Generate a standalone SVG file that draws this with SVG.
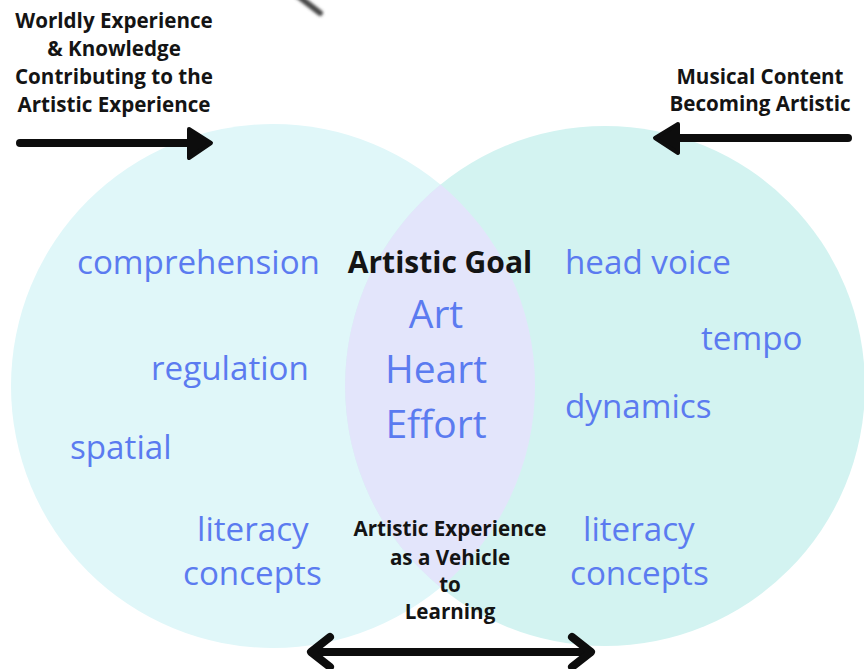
<svg xmlns="http://www.w3.org/2000/svg" width="864" height="669" viewBox="0 0 864 669">
  <style>
    .lbl { font-family: "Open Sans", "Liberation Sans", sans-serif; font-weight: 700; fill: #141414; text-anchor: middle; }
    .lbl-sm { font-size: 20.6px; }
    .item { font-family: "Open Sans", "Liberation Sans", sans-serif; font-weight: 400; fill: #5b7bf0; font-size: 33.2px; }
    .center { text-anchor: middle; font-size: 39px; }
    .conn { stroke: #0d0d0d; stroke-width: 8; stroke-linecap: round; stroke-linejoin: round; fill: none; }
    .head { fill: #0d0d0d; stroke: #0d0d0d; stroke-width: 4; stroke-linejoin: round; }
  </style>
  <defs>
    <filter id="soft" x="-50%" y="-50%" width="200%" height="200%">
      <feGaussianBlur stdDeviation="1.6"/>
    </filter>
  </defs>

  <rect width="864" height="669" fill="#ffffff"/>

  <!-- stray stroke at the top edge -->
  <line x1="298" y1="-4" x2="320" y2="13" stroke="#4a4a4a" stroke-width="6" stroke-linecap="round" filter="url(#soft)"/>

  <!-- Venn circles -->
  <g id="circle-left">
    <circle cx="273" cy="386" r="262" fill="#e0f7f9"/>
  </g>
  <g id="circle-right">
    <circle cx="605" cy="386" r="260" fill="#d3f3f1"/>
  </g>
  <g id="overlap">
    <path d="M 440.6 184.6 A 262 262 0 0 1 440.6 587.4 A 260 260 0 0 1 440.6 184.6 Z" fill="#e3e5fb"/>
  </g>

  <!-- left set items -->
  <g id="left-items" class="item">
    <text x="77" y="274">comprehension</text>
    <text x="151" y="380">regulation</text>
    <text x="70" y="459">spatial</text>
    <text x="197" y="541">literacy</text>
    <text x="183" y="585">concepts</text>
  </g>

  <!-- right set items -->
  <g id="right-items" class="item">
    <text x="565" y="274">head voice</text>
    <text x="701" y="350">tempo</text>
    <text x="565" y="418">dynamics</text>
    <text x="583" y="541">literacy</text>
    <text x="570" y="585">concepts</text>
  </g>

  <!-- overlap content -->
  <g id="artistic-goal">
    <text class="lbl" x="440" y="273" font-size="30">Artistic Goal</text>
    <g class="item center">
      <text x="436" y="328">Art</text>
      <text x="436" y="383">Heart</text>
      <text x="436" y="438">Effort</text>
    </g>
  </g>

  <!-- side and bottom captions -->
  <g id="label-worldly" class="lbl lbl-sm">
    <text x="114" y="28">Worldly Experience</text>
    <text x="114" y="56">&amp; Knowledge</text>
    <text x="114" y="84">Contributing to the</text>
    <text x="114" y="112">Artistic Experience</text>
  </g>
  <g id="label-musical" class="lbl lbl-sm">
    <text x="760" y="84">Musical Content</text>
    <text x="760" y="111">Becoming Artistic</text>
  </g>
  <g id="label-vehicle" class="lbl lbl-sm">
    <text x="450" y="536">Artistic Experience</text>
    <text x="450" y="565">as a Vehicle</text>
    <text x="450" y="592">to</text>
    <text x="450" y="619">Learning</text>
  </g>

  <!-- connectors -->
  <g id="connectors">
    <line class="conn" x1="20" y1="143" x2="192" y2="143"/>
    <polygon class="head" points="189,129 211,143 189,158"/>

    <line class="conn" x1="848" y1="138" x2="675" y2="138"/>
    <polygon class="head" points="678,124 655,138 678,153"/>

    <line class="conn" x1="312" y1="652" x2="590" y2="652"/>
    <polyline class="conn" points="330,637 311,652 330,667"/>
    <polyline class="conn" points="572,637 591,652 572,667"/>
  </g>
</svg>
